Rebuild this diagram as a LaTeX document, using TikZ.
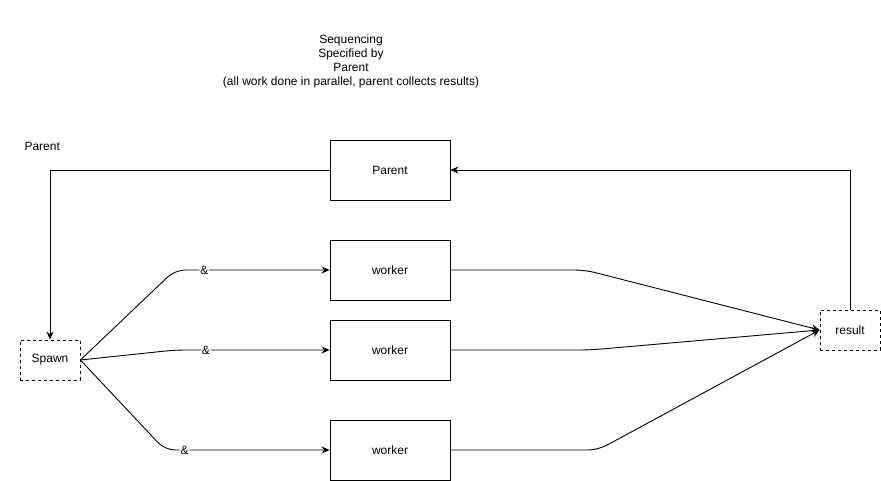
\documentclass[tikz,border=0pt]{standalone}
\usepackage{fontspec}
\setmainfont{Liberation Sans}
\usetikzlibrary{arrows.meta}
\begin{document}
\begin{tikzpicture}[x=1pt,y=-1pt,
  box/.style={draw,line width=0.9pt,minimum width=120pt,minimum height=60pt,inner sep=0pt,font=\fontsize{12}{14}\selectfont},
  dbox/.style={draw,dashed,line width=0.8pt,minimum width=60pt,minimum height=40pt,inner sep=0pt,font=\fontsize{12}{14}\selectfont},
  conn/.style={line width=0.9pt,-{Stealth[length=8pt,width=7pt]}},
  rconn/.style={conn,rounded corners=10pt},
  lbl/.style={fill=white,inner sep=1pt,font=\fontsize{12}{14}\selectfont},
  txt/.style={font=\fontsize{12}{14}\selectfont,align=center}]
\useasboundingbox (0,0) rectangle (881,481);
\node[txt] (title) at (351,61) {Sequencing\\Specified by\\Parent\\(all work done in parallel, parent collects results)};
\node[txt,anchor=west] (plabel) at (21,146) {Parent};
\node[box] (parent) at (390,170) {Parent};
\node[box] (w1) at (390,270) {worker};
\node[box] (w2) at (390,350) {worker};
\node[box] (w3) at (390,450) {worker};
\node[dbox] (spawn) at (50,360) {Spawn};
\node[dbox] (result) at (850,330) {result};
\coordinate (c1) at (50,170);
\coordinate (c2) at (850,170);
\coordinate (s1) at (175,270);
\coordinate (s2) at (175,350);
\coordinate (s3) at (165,450);
\coordinate (r1) at (585,270);
\coordinate (r2) at (590,350);
\coordinate (r3) at (598,450);
\draw[conn] (parent.west) -- (c1) -- (spawn.north);
\draw[conn] (result.north) -- (c2) -- (parent.east);
\draw[rconn] (spawn.east) -- (s1) -- node[lbl,pos=0.19]{\&} (w1.west);
\draw[rconn] (spawn.east) -- (s2) -- node[lbl,pos=0.2]{\&} (w2.west);
\draw[rconn] (spawn.east) -- (s3) -- node[lbl,pos=0.12]{\&} (w3.west);
\draw[rconn] (w1.east) -- (r1) -- (result.west);
\draw[rconn] (w2.east) -- (r2) -- (result.west);
\draw[rconn] (w3.east) -- (r3) -- (result.west);
\end{tikzpicture}
\end{document}
